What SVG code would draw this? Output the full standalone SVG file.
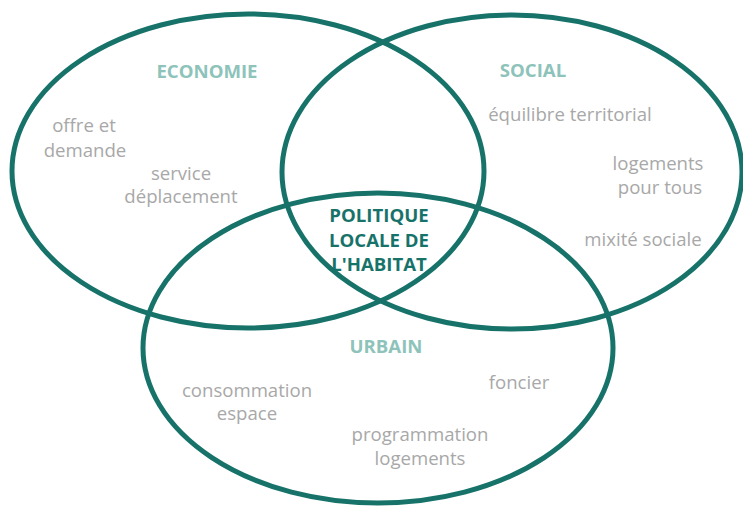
<svg xmlns="http://www.w3.org/2000/svg" width="743" height="506" viewBox="0 0 743 506">
<style>
.ring{fill:none;stroke:#17736a;stroke-width:5}
.head{font-family:"Open Sans","Liberation Sans",sans-serif;font-weight:bold;font-size:18.6px;fill:#8dc3ba;text-anchor:middle}
.core{font-family:"Open Sans","Liberation Sans",sans-serif;font-weight:bold;font-size:18.6px;fill:#17736a;text-anchor:middle}
.item{font-family:"Open Sans","Liberation Sans",sans-serif;font-size:18.6px;fill:#a8a8a8;text-anchor:middle}
</style>
<rect width="743" height="506" fill="#ffffff"/>
<g id="connectors"></g>
<g id="economie">
<ellipse class="ring" cx="248" cy="171" rx="236" ry="157"/>
<text class="head" x="207" y="78">ECONOMIE</text>
<text class="item" x="84" y="132">offre et</text>
<text class="item" x="85" y="157">demande</text>
<text class="item" x="181" y="180">service</text>
<text class="item" x="181" y="203">déplacement</text>
</g>
<g id="social">
<ellipse class="ring" cx="512" cy="172" rx="230" ry="157"/>
<text class="head" x="533" y="77">SOCIAL</text>
<text class="item" x="570" y="121">équilibre territorial</text>
<text class="item" x="658" y="170">logements</text>
<text class="item" x="660" y="194">pour tous</text>
<text class="item" x="643" y="246">mixité sociale</text>
</g>
<g id="urbain">
<ellipse class="ring" cx="378" cy="348" rx="235" ry="155"/>
<text class="head" x="386" y="353">URBAIN</text>
<text class="item" x="247" y="397">consommation</text>
<text class="item" x="247" y="420">espace</text>
<text class="item" x="519" y="389">foncier</text>
<text class="item" x="420" y="441">programmation</text>
<text class="item" x="420" y="465">logements</text>
</g>
<g id="politique">
<text class="core" x="379" y="222">POLITIQUE</text>
<text class="core" x="379" y="247">LOCALE DE</text>
<text class="core" x="379" y="271">L'HABITAT</text>
</g>
</svg>
